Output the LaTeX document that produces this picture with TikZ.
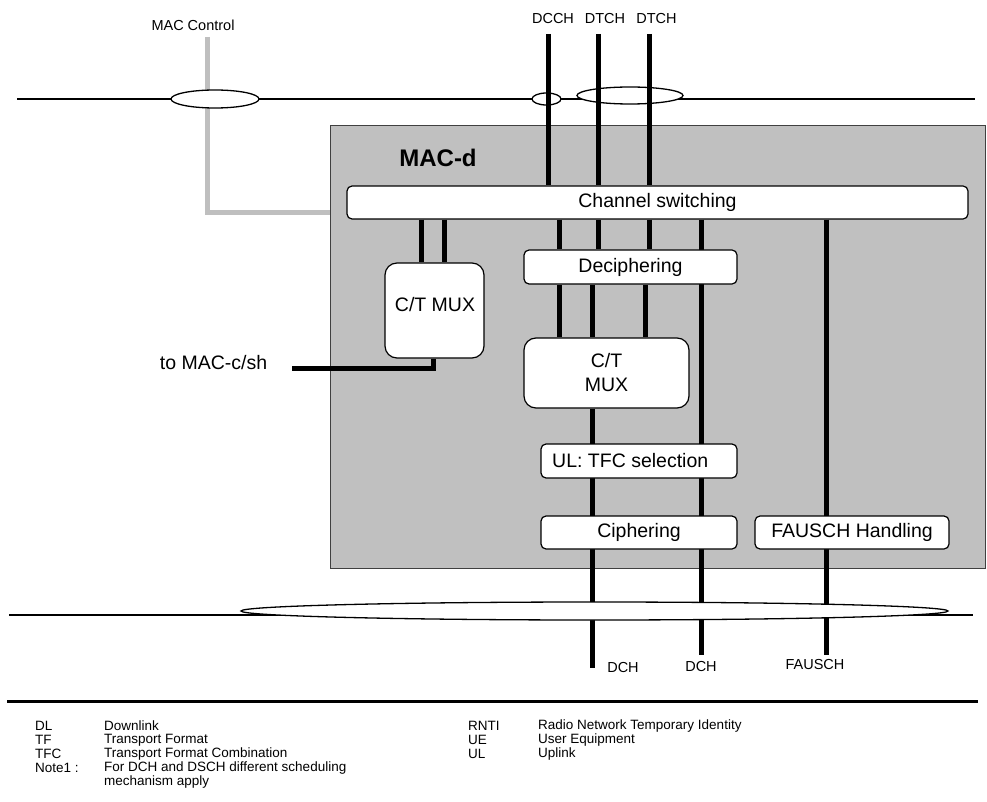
\documentclass[tikz,border=0pt]{standalone}
\usepackage{fontspec}
\setmainfont{Liberation Sans}
\usetikzlibrary{shapes.geometric}
\pgfdeclarelayer{back}
\pgfdeclarelayer{wires}
\pgfsetlayers{back,wires,main}
\definecolor{macgray}{HTML}{C0C0C0}
\definecolor{ctrlgray}{HTML}{BFBFBF}
\definecolor{edgegray}{HTML}{404040}
\begin{document}
\begin{tikzpicture}[x=1pt,y=-1pt,
  wbox/.style={draw=black, fill=white, line width=1.2pt, rounded corners=5pt, inner sep=0pt, font=\fontsize{19.5}{24}\selectfont},
  muxbox/.style={wbox, rounded corners=12pt},
  chan/.style={line width=5pt},
  thinline/.style={line width=1.5pt},
  lbl/.style={inner sep=0pt, font=\fontsize{14.5}{17}\selectfont},
  boxlbl/.style={inner sep=0pt, font=\fontsize{19.5}{24}\selectfont},
  leg/.style={inner sep=0pt, anchor=west, font=\fontsize{13.5}{16}\selectfont},
  oval/.style={ellipse, draw=black, fill=white, line width=1.3pt, inner sep=0pt}
]
\useasboundingbox (0,0) rectangle (987,802);

% MAC-d area
\begin{pgfonlayer}{back}
\node[draw=edgegray, line width=1pt, fill=macgray, minimum width=655pt, minimum height=442pt, inner sep=0pt] (macd) at (657.5,347) {};
\end{pgfonlayer}
\node[inner sep=0pt, font=\fontsize{24}{28}\selectfont\bfseries] (macdt) at (438,158) {MAC-d};

% boxes
\node[wbox, minimum width=621pt, minimum height=33pt] (cs) at (657.5,202.5) {Channel switching};
\node[muxbox, minimum width=99pt, minimum height=95pt] (mux1) at (434.5,310.5) {};
\node[boxlbl] (mux1t) at (435,305) {C/T MUX};
\node[wbox, minimum width=213pt, minimum height=34pt] (dec) at (630.5,267) {Deciphering};
\node[muxbox, minimum width=165pt, minimum height=70pt, align=center] (mux2) at (606.5,373) {C/T\\MUX};
\node[wbox, minimum width=196pt, minimum height=34pt] (tfc) at (639,461) {};
\node[boxlbl, anchor=west] (tfct) at (552,461) {UL: TFC selection};
\node[wbox, minimum width=196pt, minimum height=33pt] (ciph) at (639,532.5) {Ciphering};
\node[wbox, minimum width=194pt, minimum height=33pt] (faus) at (852,532.5) {FAUSCH Handling};

% labels
\node[lbl] (macctl) at (193,25) {MAC Control};
\node[lbl] (ldcch) at (553,19) {DCCH};
\node[lbl] (ldtch1) at (605,19) {DTCH};
\node[lbl] (ldtch2) at (656.5,19) {DTCH};
\node[boxlbl] (tomact) at (213.5,363) {to MAC-c/sh};
\node[lbl] (ldch1) at (623,668) {DCH};
\node[lbl] (ldch2) at (701,667) {DCH};
\node[lbl] (lfausch) at (815,665) {FAUSCH};

% coordinates
\coordinate (tl) at (17,99);
\coordinate (tr) at (975,99);
\coordinate (ctop) at (207,37);
\coordinate (cbend) at (207,213);
\coordinate (t1) at (548,34);
\coordinate (t2) at (598,34);
\coordinate (t3) at (649,34);
\coordinate (xa) at (421,0);
\coordinate (xb) at (444,0);
\coordinate (xc) at (559,0);
\coordinate (xd) at (598,0);
\coordinate (xe) at (649,0);
\coordinate (xf) at (592,0);
\coordinate (xg) at (645,0);
\coordinate (xm) at (433,0);
\coordinate (tomacbend) at (433,368);
\coordinate (tomac) at (292,368);
\coordinate (d1end) at (592,668);
\coordinate (d2end) at (701,655);
\coordinate (fend) at (826,655);
\coordinate (bl) at (9,615);
\coordinate (br) at (973,615);
\coordinate (s1) at (7,701.5);
\coordinate (s2) at (978,701.5);

\begin{pgfonlayer}{wires}
% top bus
\draw[thinline] (tl) -- (tr);
\draw[line width=5pt, ctrlgray] (ctop) -- (cbend) -- (cbend -| macd.west);
\node[oval, minimum width=88pt, minimum height=18pt] (e1) at (215,99) {};
\node[oval, minimum width=29pt, minimum height=12pt] (e2) at (546.5,99) {};
\node[oval, minimum width=106pt, minimum height=17pt] (e3) at (630,95.5) {};
\draw[chan] (t1) -- (t1 |- cs.north);
\draw[chan] (t2) -- (t2 |- cs.north);
\draw[chan] (t3) -- (t3 |- cs.north);
% internal
\draw[chan] (cs.south -| xa) -- (mux1.north -| xa);
\draw[chan] (cs.south -| xb) -- (mux1.north -| xb);
\draw[chan] (cs.south -| xc) -- (dec.north -| xc);
\draw[chan] (cs.south -| xd) -- (dec.north -| xd);
\draw[chan] (cs.south -| xe) -- (dec.north -| xe);
\draw[chan] (dec.south -| xc) -- (mux2.north -| xc);
\draw[chan] (dec.south -| xf) -- (mux2.north -| xf);
\draw[chan] (dec.south -| xg) -- (mux2.north -| xg);
\draw[chan] (mux2.south -| xf) -- (d1end);
\draw[chan] (cs.south -| d2end) -- (d2end);
\draw[chan] (cs.south -| fend) -- (fend);
\draw[chan, line join=miter] (mux1.south -| xm) -- (tomacbend) -- (tomac);
% bottom bus
\draw[thinline] (bl) -- (br);
\node[oval, minimum width=707pt, minimum height=18pt] (e4) at (594.5,611) {};
\end{pgfonlayer}

% legend
\draw[line width=2.5pt] (s1) -- (s2);
\node[leg] (k1) at (35,726) {DL};
\node[leg] (v1) at (104,726) {Downlink};
\node[leg] (k2) at (35,740) {TF};
\node[leg] (v2) at (104,740) {Transport Format};
\node[leg] (k3) at (35,754) {TFC};
\node[leg] (v3) at (104,754) {Transport Format Combination};
\node[leg] (k4) at (35,768) {Note1 :};
\node[leg] (v4) at (104,768) {For DCH and DSCH different scheduling};
\node[leg] (v5) at (104,782) {mechanism apply};
\node[leg] (k6) at (468,726) {RNTI};
\node[leg] (v6) at (538,726) {Radio Network Temporary Identity};
\node[leg] (k7) at (468,740) {UE};
\node[leg] (v7) at (538,740) {User Equipment};
\node[leg] (k8) at (468,754) {UL};
\node[leg] (v8) at (538,754) {Uplink};
\end{tikzpicture}
\end{document}
